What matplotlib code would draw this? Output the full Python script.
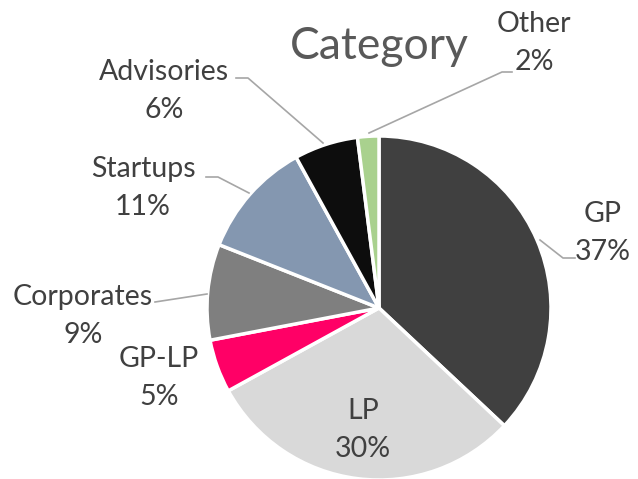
import numpy as np
import matplotlib.pyplot as plt

categories = ["GP", "LP", "GP-LP", "Corporates", "Startups", "Advisories", "Other"]
shares = [37, 30, 5, 9, 11, 6, 2]
colors = ["#404040", "#d9d9d9", "#ff0066", "#7f7f7f", "#8497b0", "#0d0d0d", "#a9d18e"]

# label text centres (pixel coords, y from top) and leader lines
label_pos = {
    "GP": (603, 233), "LP": (363, 430), "GP-LP": (159, 378),
    "Corporates": (83, 316), "Startups": (143, 188),
    "Advisories": (164, 91), "Other": (534, 43),
}
leaders = {
    "GP": [(575, 258), (563, 258), (540, 240)],
    "Corporates": [(155, 302), (207, 294)],
    "Startups": [(206, 177), (218, 177), (249, 193)],
    "Advisories": [(236, 78), (248, 78), (323, 143)],
    "Other": [(512, 72), (502, 72), (369, 133)],
}

W, H = 638, 479
plt.rcParams['font.family'] = ['Lato', 'DejaVu Sans']
fig = plt.figure(figsize=(W / 100, H / 100), dpi=100)
ax = fig.add_axes([0, 0, 1, 1])

cx, cy, r = 379, H - 308, 172
ax.pie(shares, colors=colors, startangle=90, counterclock=False,
       center=(cx, cy), radius=r, frame=True,
       wedgeprops=dict(edgecolor='white', linewidth=2.5))
ax.set_xlim(0, W)
ax.set_ylim(0, H)
ax.set_aspect('equal')
ax.axis('off')

txt = "#404040"
ax.text(379, H - 46, "Category", ha='center', va='center', fontsize=32, color="#595959")

for name, val in zip(categories, shares):
    x, y = label_pos[name]
    ax.text(x, H - y, f"{name}\n{val}%", ha='center', va='center',
            fontsize=20.5, color=txt, linespacing=1.55)
    if name in leaders:
        pts = np.array(leaders[name], dtype=float)
        ax.plot(pts[:, 0], H - pts[:, 1], color="#a6a6a6", lw=1.2)

fig.savefig("out.png", dpi=100)
